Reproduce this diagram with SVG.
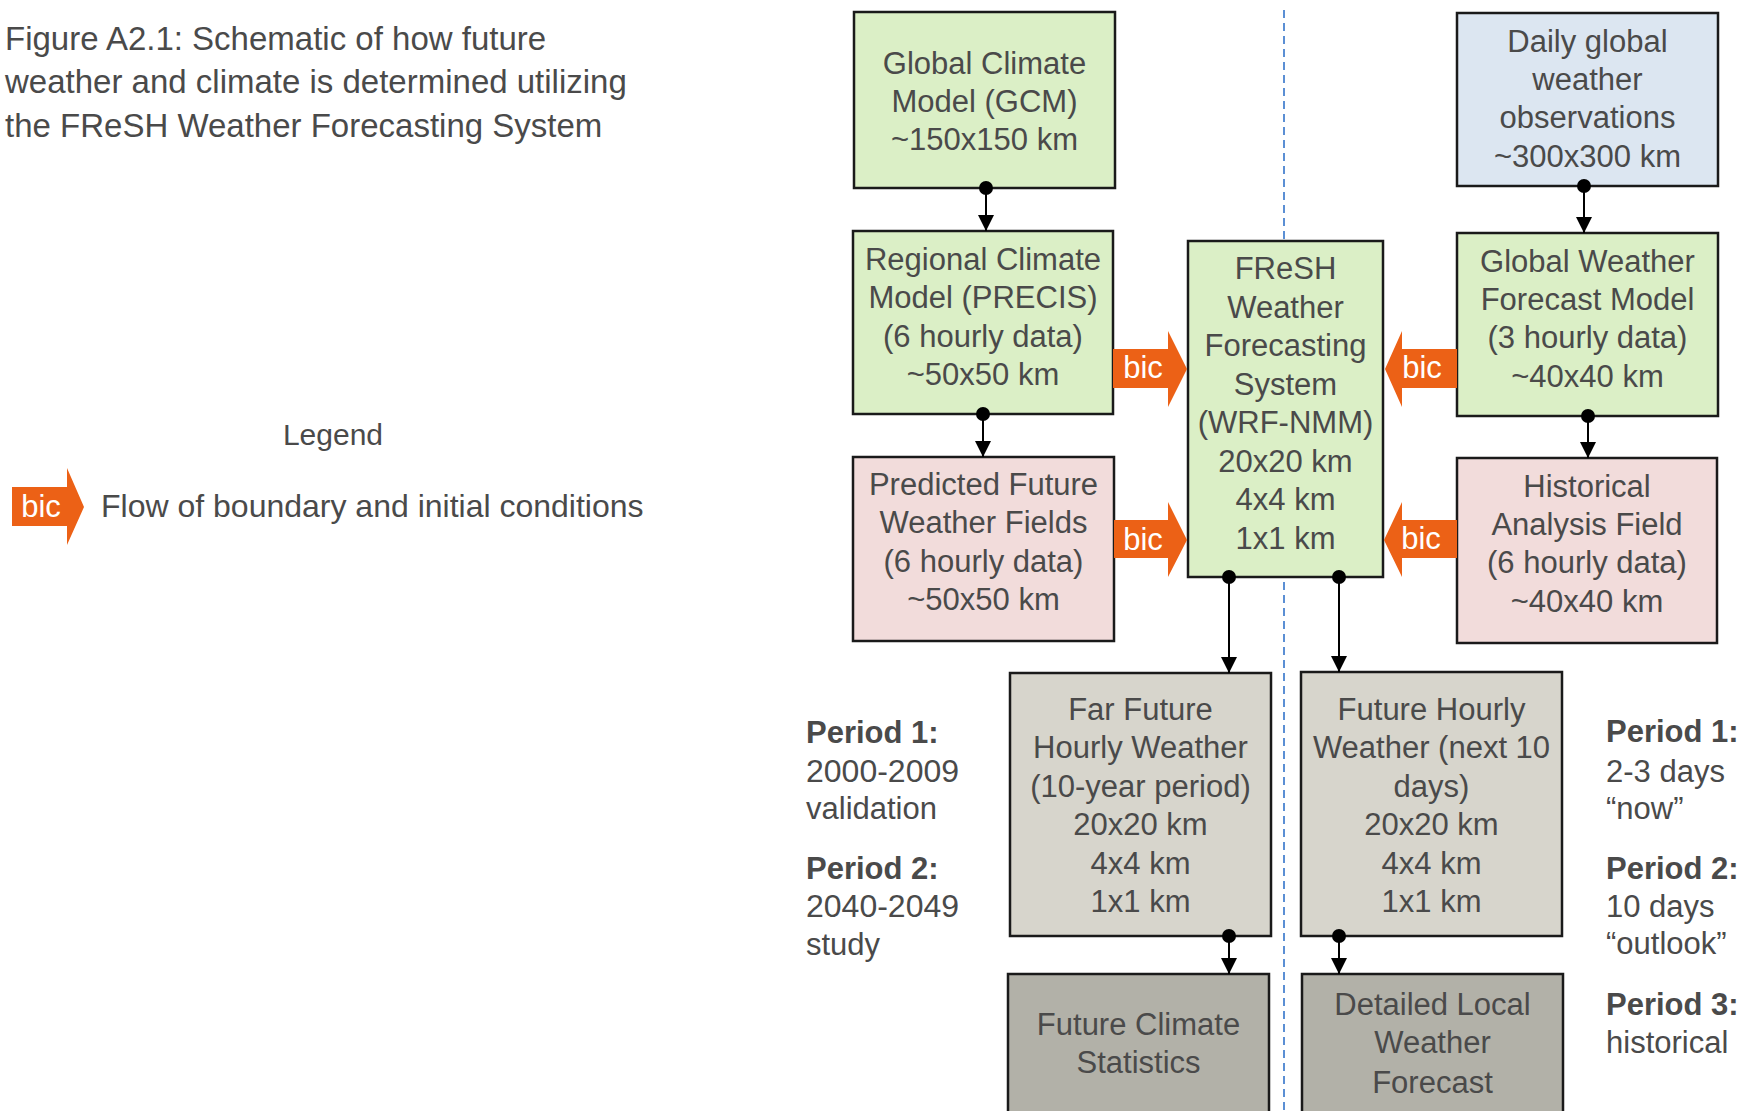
<svg xmlns="http://www.w3.org/2000/svg" width="1742" height="1111" viewBox="0 0 1742 1111">
<defs>
<style>
text{font-family:"Liberation Sans",Arial,sans-serif;fill:#4a4a4a}
.box{stroke:#1a1a1a;stroke-width:2.5}
.green{fill:#dbefc6}
.blue{fill:#dce6f1}
.pink{fill:#f2dcdb}
.lgray{fill:#d7d5cc}
.dgray{fill:#b2b1a8}
.bt{font-size:31px;text-anchor:middle}
.title{font-size:33px}
.per{font-size:31px}
.perb{font-size:31px;font-weight:bold}
.bic{fill:#ec6116}
.bict{font-size:31px;fill:#ffffff;text-anchor:middle}
.conn{stroke:#000;stroke-width:2;fill:none;marker-start:url(#dot);marker-end:url(#ah)}
.dash{stroke:#5b8fd4;stroke-width:2;stroke-dasharray:8 5;fill:none}
</style>
<marker id="ah" viewBox="0 0 16 16" refX="16" refY="8" markerWidth="16" markerHeight="16" orient="auto" markerUnits="userSpaceOnUse">
<path d="M0,0 L16,8 L0,16 Z" fill="#000"/>
</marker>
<marker id="dot" viewBox="0 0 16 16" refX="8" refY="8" markerWidth="16" markerHeight="16" orient="auto" markerUnits="userSpaceOnUse">
<circle cx="8" cy="8" r="7" fill="#000"/>
</marker>
</defs>
<rect x="0" y="0" width="1742" height="1111" fill="#ffffff"/>

<g id="title">
<text class="title" x="5" y="50">Figure A2.1: Schematic of how future</text>
<text class="title" x="5" y="93">weather and climate is determined utilizing</text>
<text class="title" x="5" y="137">the FReSH Weather Forecasting System</text>
</g>

<g id="legend">
<text x="333" y="445" style="font-size:30px;text-anchor:middle">Legend</text>
<polygon class="bic" points="12,487 67,487 67,468 84,507 67,545 67,526 12,526"/>
<text class="bict" x="41" y="517">bic</text>
<text x="101" y="517" style="font-size:32px">Flow of boundary and initial conditions</text>
</g>

<line class="dash" x1="1284" y1="10" x2="1284" y2="1111"/>

<g id="gcm">
<rect class="box green" x="854" y="12" width="261" height="176"/>
<text class="bt" x="984.5" y="74">Global Climate</text>
<text class="bt" x="984.5" y="112">Model (GCM)</text>
<text class="bt" x="984.5" y="150">~150x150 km</text>
</g>

<g id="rcm">
<rect class="box green" x="853" y="231" width="260" height="183"/>
<text class="bt" x="983" y="270">Regional Climate</text>
<text class="bt" x="983" y="308">Model (PRECIS)</text>
<text class="bt" x="983" y="347">(6 hourly data)</text>
<text class="bt" x="983" y="385">~50x50 km</text>
</g>

<g id="pf">
<rect class="box pink" x="853" y="457" width="261" height="184"/>
<text class="bt" x="983.5" y="495">Predicted Future</text>
<text class="bt" x="983.5" y="533">Weather Fields</text>
<text class="bt" x="983.5" y="572">(6 hourly data)</text>
<text class="bt" x="983.5" y="610">~50x50 km</text>
</g>

<g id="fresh">
<rect class="box green" x="1188" y="241" width="195" height="336"/>
<text class="bt" x="1285.5" y="279">FReSH</text>
<text class="bt" x="1285.5" y="317.5">Weather</text>
<text class="bt" x="1285.5" y="356">Forecasting</text>
<text class="bt" x="1285.5" y="394.5">System</text>
<text class="bt" x="1285.5" y="433">(WRF-NMM)</text>
<text class="bt" x="1285.5" y="471.5">20x20 km</text>
<text class="bt" x="1285.5" y="510">4x4 km</text>
<text class="bt" x="1285.5" y="548.5">1x1 km</text>
</g>

<g id="daily">
<rect class="box blue" x="1457" y="13" width="261" height="173"/>
<text class="bt" x="1587.5" y="52">Daily global</text>
<text class="bt" x="1587.5" y="90">weather</text>
<text class="bt" x="1587.5" y="128">observations</text>
<text class="bt" x="1587.5" y="167">~300x300 km</text>
</g>

<g id="gw">
<rect class="box green" x="1457" y="233" width="261" height="183"/>
<text class="bt" x="1587.5" y="272">Global Weather</text>
<text class="bt" x="1587.5" y="310">Forecast Model</text>
<text class="bt" x="1587.5" y="348">(3 hourly data)</text>
<text class="bt" x="1587.5" y="387">~40x40 km</text>
</g>

<g id="ha">
<rect class="box pink" x="1457" y="458" width="260" height="185"/>
<text class="bt" x="1587" y="497">Historical</text>
<text class="bt" x="1587" y="535">Analysis Field</text>
<text class="bt" x="1587" y="573">(6 hourly data)</text>
<text class="bt" x="1587" y="612">~40x40 km</text>
</g>

<g id="ff">
<rect class="box lgray" x="1010" y="673" width="261" height="263"/>
<text class="bt" x="1140.5" y="720">Far Future</text>
<text class="bt" x="1140.5" y="758">Hourly Weather</text>
<text class="bt" x="1140.5" y="797">(10-year period)</text>
<text class="bt" x="1140.5" y="835">20x20 km</text>
<text class="bt" x="1140.5" y="874">4x4 km</text>
<text class="bt" x="1140.5" y="912">1x1 km</text>
</g>

<g id="fh">
<rect class="box lgray" x="1301" y="672" width="261" height="264"/>
<text class="bt" x="1431.5" y="720">Future Hourly</text>
<text class="bt" x="1431.5" y="758">Weather (next 10</text>
<text class="bt" x="1431.5" y="797">days)</text>
<text class="bt" x="1431.5" y="835">20x20 km</text>
<text class="bt" x="1431.5" y="874">4x4 km</text>
<text class="bt" x="1431.5" y="912">1x1 km</text>
</g>

<g id="fcs">
<rect class="box dgray" x="1008" y="974" width="261" height="160"/>
<text class="bt" x="1138.5" y="1035">Future Climate</text>
<text class="bt" x="1138.5" y="1073">Statistics</text>
</g>

<g id="dlw">
<rect class="box dgray" x="1302" y="974" width="261" height="160"/>
<text class="bt" x="1432.5" y="1015">Detailed Local</text>
<text class="bt" x="1432.5" y="1053">Weather</text>
<text class="bt" x="1432.5" y="1093">Forecast</text>
</g>

<g id="periods-left">
<text class="perb" x="806" y="743">Period 1:</text>
<text class="per" x="806" y="782" style="font-size:32px">2000-2009</text>
<text class="per" x="806" y="819">validation</text>
<text class="perb" x="806" y="879">Period 2:</text>
<text class="per" x="806" y="917" style="font-size:32px">2040-2049</text>
<text class="per" x="806" y="955">study</text>
</g>

<g id="periods-right">
<text class="perb" x="1606" y="742">Period 1:</text>
<text class="per" x="1606" y="782">2-3 days</text>
<text class="per" x="1606" y="819">“now”</text>
<text class="perb" x="1606" y="879">Period 2:</text>
<text class="per" x="1606" y="917">10 days</text>
<text class="per" x="1606" y="954">“outlook”</text>
<text class="perb" x="1606" y="1015">Period 3:</text>
<text class="per" x="1606" y="1053">historical</text>
</g>

<g id="connectors">
<line class="conn" x1="986" y1="188" x2="986" y2="231"/>
<line class="conn" x1="1584" y1="186" x2="1584" y2="233"/>
<line class="conn" x1="983" y1="414" x2="983" y2="457"/>
<line class="conn" x1="1588" y1="416" x2="1588" y2="458"/>
<line class="conn" x1="1229" y1="577" x2="1229" y2="673"/>
<line class="conn" x1="1339" y1="577" x2="1339" y2="672"/>
<line class="conn" x1="1229" y1="936" x2="1229" y2="974"/>
<line class="conn" x1="1339" y1="936" x2="1339" y2="974"/>
<g id="bic-rcm">
<polygon class="bic" points="1113,349 1168,349 1168,331 1187,369 1168,407 1168,388 1113,388"/>
<text class="bict" x="1143" y="378">bic</text>
</g>
<g id="bic-pf">
<polygon class="bic" points="1114,520 1168,520 1168,502 1187,540 1168,577 1168,558 1114,558"/>
<text class="bict" x="1143" y="550">bic</text>
</g>
<g id="bic-gw">
<polygon class="bic" points="1457,349 1402,349 1402,331 1385,369 1402,407 1402,388 1457,388"/>
<text class="bict" x="1422" y="378">bic</text>
</g>
<g id="bic-ha">
<polygon class="bic" points="1457,520 1402,520 1402,502 1384,540 1402,577 1402,558 1457,558"/>
<text class="bict" x="1421" y="549">bic</text>
</g>
</g>
</svg>
